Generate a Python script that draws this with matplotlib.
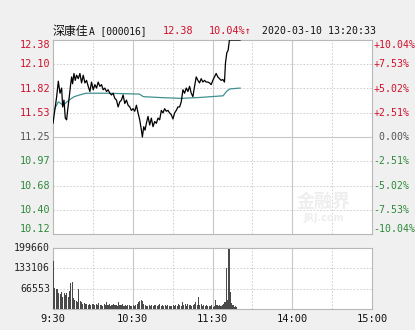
import matplotlib.pyplot as plt

# 分时数据（分钟数，从 9:30 起算，13:00 接在 11:30 之后）
prev_close = 11.25
price_min = [0, 2.75, 4, 5.25, 6.5, 7.25, 8.25, 9.25, 10.25, 11, 12.25, 13.25, 14, 14.75,
             15.75, 16.75, 17.75, 19, 20.25, 21.5, 22.75, 24, 25.25, 26.5, 27.75, 29,
             30.25, 31.5, 32.75, 34, 35.25, 36.5, 37.75, 39, 40.25, 41.5, 42.75, 44,
             45.25, 46.5, 47.75, 49, 50.25, 51.5, 52.75, 54, 55.25, 56.5, 57.75, 59,
             60.25, 61.5, 62.75, 64, 65.25, 66.5, 67.25, 68.25, 69.25, 70.25, 71.5,
             72.75, 74, 75.25, 76.5, 77.75, 79, 80.25, 81.5, 82.75, 84, 85.25, 86.5,
             87.75, 89, 90.25, 91.5, 92.75, 94, 95.25, 96.5, 97.75, 99, 100.25, 101.5,
             102.75, 104, 105.25, 106.5, 107.75, 109, 110.25, 111.5, 112.75, 114,
             115.25, 116.5, 117.75, 119, 120.25, 121.5, 122.75, 124, 125.25, 126.5,
             127.75, 129, 129.75, 130.75, 131.75, 132.75, 140.75]
price_val = [11.41, 11.72, 11.90, 11.76, 11.82, 11.60, 11.68, 11.47, 11.45, 11.56, 11.72,
             11.86, 11.95, 11.87, 11.99, 11.91, 11.97, 11.93, 11.99, 11.88, 11.97, 11.88,
             11.91, 11.84, 11.78, 11.89, 11.80, 11.86, 11.82, 11.89, 11.84, 11.86, 11.80,
             11.82, 11.78, 11.80, 11.76, 11.74, 11.76, 11.70, 11.68, 11.60, 11.66, 11.68,
             11.74, 11.64, 11.68, 11.62, 11.60, 11.56, 11.58, 11.55, 11.62, 11.53, 11.45,
             11.33, 11.25, 11.37, 11.33, 11.41, 11.49, 11.39, 11.47, 11.37, 11.43, 11.41,
             11.47, 11.45, 11.56, 11.53, 11.58, 11.55, 11.56, 11.53, 11.51, 11.46, 11.53,
             11.56, 11.60, 11.60, 11.66, 11.80, 11.76, 11.82, 11.78, 11.84, 11.76, 11.72,
             11.84, 11.95, 11.91, 11.88, 11.93, 11.89, 11.91, 11.89, 11.89, 11.88, 11.86,
             11.91, 11.95, 11.99, 11.95, 11.93, 11.91, 11.92, 11.89, 12.11, 12.23, 12.26,
             12.38, 12.38]

avg_min = [0, 4, 7.75, 12, 16, 20, 25, 40, 65, 68, 80, 96, 110, 128, 130.5, 133, 140.75]
avg_val = [11.54, 11.66, 11.62, 11.68, 11.72, 11.74, 11.76, 11.76, 11.75, 11.72, 11.71,
           11.70, 11.71, 11.73, 11.78, 11.81, 11.82]

vol = [158000, 68000, 66000, 65000, 52000, 50000, 55000, 40000, 52000, 45000, 54000,
       38000, 58000, 86000, 89000, 35000, 30000, 26000, 22000, 64000, 26000, 24000,
       18000, 20000, 16000, 18000, 14000, 17000, 13000, 15000, 18000, 12000, 16000,
       14000, 19000, 12000, 14000, 11000, 16000, 13000, 24000, 12000, 15000, 11000,
       13000, 18000, 12000, 14000, 11000, 22000, 13000, 12000, 15000, 11000, 13000,
       10000, 12000, 14000, 11000, 9000, 12000, 10000, 14000, 18000, 22000, 26000,
       30000, 26000, 18000, 14000, 10000, 11000, 12000, 10000, 13000, 11000, 12000,
       14000, 10000, 12000, 18000, 11000, 13000, 10000, 12000, 11000, 13000, 9000,
       11000, 10000, 12000, 9000, 14000, 11000, 16000, 12000, 10000, 24000, 13000,
       15000, 11000, 17000, 12000, 14000, 10000, 12000, 18000, 22000, 14000, 40000,
       12000, 15000, 11000, 13000, 10000, 12000, 9000, 11000, 10000, 12000, 8000,
       11000, 30000, 14000, 10000, 12000, 11000, 13000, 15000, 24000, 135000, 30000,
       196000, 55000, 20000, 12000, 8000, 9000, 5000]

price_ticks = ['12.38', '12.10', '11.82', '11.53', '11.25', '10.97', '10.68', '10.40', '10.12']
pct_ticks = ['+10.04%', '+7.53%', '+5.02%', '+2.51%', ' 0.00%', '-2.51%', '-5.02%', '-7.53%', '-10.04%']
vol_ticks = ['199660', '133106', '66553']
time_labels = ['9:30', '10:30', '11:30', '14:00', '15:00']

RED = '#d0102a'
GREEN = '#2f8a3a'
GRID = '#c8c8c8'
MONO = ['DejaVu Sans Mono', 'Noto Sans CJK SC']

fig = plt.figure(figsize=(4.15, 3.3), dpi=100, facecolor='#f0f0f0')
ax = fig.add_axes([53 / 415, 1 - 234 / 330, 319 / 415, 194 / 330])
axv = fig.add_axes([53 / 415, 1 - 309 / 330, 319 / 415, 61 / 330])

ymin, ymax = 10.12, 12.38
levels = [ymax - i * (ymax - ymin) / 8 for i in range(9)]

for a in (ax, axv):
    a.set_facecolor('white')
    a.set_xlim(0, 240)
    a.set_xticks([])
    a.set_yticks([])
    for s in a.spines.values():
        s.set_color('#b8b8b8')
        s.set_linewidth(0.8)
    for m in range(30, 240, 30):
        if m in (60, 120, 180):
            a.axvline(m, color=GRID, lw=0.8, zorder=0)
        else:
            a.axvline(m, color=GRID, lw=0.6, ls=(0, (2, 2)), zorder=0)

ax.set_ylim(ymin, ymax)
for i, lv in enumerate(levels[1:-1], start=1):
    if i == 4:
        ax.axhline(lv, color=GRID, lw=0.8, zorder=0)
    else:
        ax.axhline(lv, color=GRID, lw=0.6, ls=(0, (2, 2)), zorder=0)

# 价格与均价
ax.plot(price_min, price_val, color='black', lw=0.9, zorder=3)
ax.plot(avg_min, avg_val, color='#3f8f8f', lw=0.9, zorder=2)

# 左右刻度文字
for i, lv in enumerate(levels):
    col = RED if i < 4 else ('#555555' if i == 4 else GREEN)
    va = 'top' if i == 0 else ('bottom' if i == 8 else 'center')
    ax.text(-3 / 319 * 240, lv, price_ticks[i], ha='right', va=va, color=col,
            fontsize=7.3, family=MONO)
    ax.text(240 + 1, lv, pct_ticks[i], ha='left', va=va, color=col,
            fontsize=7.1, family=MONO)

# 水印
ax.text(0.85, 0.17, '金融界', transform=ax.transAxes, ha='center', va='center',
        fontsize=13, color='#eeeeee', fontweight='bold', family=['Noto Sans CJK SC'], zorder=1)
ax.text(0.85, 0.08, 'JRJ.com', transform=ax.transAxes, ha='center', va='center',
        fontsize=7, color='#eeeeee', fontweight='bold', zorder=1)

# 成交量
vmax = 199660
axv.set_ylim(0, vmax)
axv.bar(range(len(vol)), vol, width=0.8, color='#4a4a4a', align='edge', zorder=3)
for v in (vmax / 3, vmax * 2 / 3):
    axv.axhline(v, color=GRID, lw=0.6, ls=(0, (2, 2)), zorder=0)
for lbl, v in zip(vol_ticks, [vmax, vmax * 2 / 3, vmax / 3]):
    axv.text(-3 / 319 * 240, v, lbl, ha='right', va='center', color='#222222',
             fontsize=7.1, family=MONO)
for lbl, m in zip(time_labels, [0, 60, 120, 180, 240]):
    axv.text(m, -0.16 * vmax, lbl, ha='center', va='center', color='#111111',
             fontsize=7.5, family=MONO)

# 标题行
ty = 1 - 31 / 330
fig.text(53 / 415, ty, '深康佳', ha='left', va='center',
         fontsize=8.6, color='#111111', family=['Noto Sans CJK SC'])
fig.text(89 / 415, ty, 'A [000016]', ha='left', va='center',
         fontsize=6.9, color='#111111', family=MONO)
fig.text(163 / 415, ty, '12.38', ha='left', va='center',
         fontsize=7.3, color=RED, family=MONO)
fig.text(209 / 415, ty, '10.04%↑', ha='left', va='center',
         fontsize=7.3, color=RED, family=MONO)
fig.text(262 / 415, ty, '2020-03-10 13:20:33', ha='left', va='center',
         fontsize=7.1, color='#111111', family=MONO)

fig.savefig('out.png', dpi=100, facecolor=fig.get_facecolor())
